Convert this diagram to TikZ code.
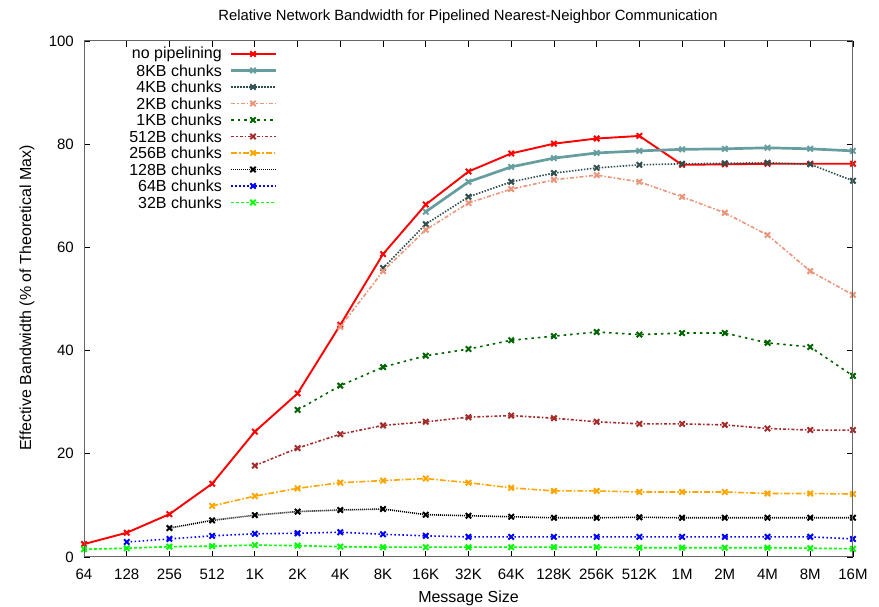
\documentclass[tikz,border=0pt]{standalone}
\usepackage{fontspec}
\setmainfont{Liberation Sans}
\usetikzlibrary{plotmarks}

\definecolor{nopipe}{RGB}{255,0,0}
\definecolor{cadet}{RGB}{102,158,160}
\definecolor{slate}{RGB}{47,79,79}
\definecolor{salmon}{RGB}{233,150,122}
\definecolor{dkgreen}{RGB}{0,100,0}
\definecolor{brownish}{RGB}{165,42,42}
\definecolor{orangeish}{RGB}{255,165,0}
\definecolor{pureblue}{RGB}{0,0,255}
\definecolor{puregreen}{RGB}{0,255,0}

\begin{document}
\begin{tikzpicture}[
  x=1pt, y=1pt,
  every node/.style={inner sep=0pt},
  ticklabel/.style={font=\fontsize{15}{17}\selectfont},
  axislabel/.style={font=\fontsize{16}{18}\selectfont},
  keylabel/.style={font=\fontsize{16}{18}\selectfont},
  frame/.style={draw=black!60, line width=1pt},
  tick/.style={draw=black, line width=0.8pt},
  curve/.style={line width=1.6pt, mark=x, mark size=3.8pt,
                mark options={solid, line width=2pt}},
  c0/.style={curve, nopipe, line width=1.9pt},
  c1/.style={curve, cadet, line width=2.7pt},
  c2/.style={curve, slate, dash pattern=on 1.5pt off 1.5pt},
  c3/.style={curve, salmon, dash pattern=on 4pt off 2pt on 1.5pt off 2pt},
  c4/.style={curve, dkgreen, dash pattern=on 2.5pt off 4pt},
  c5/.style={curve, brownish, dash pattern=on 3pt off 2pt on 1.5pt off 2pt},
  c6/.style={curve, orangeish, dash pattern=on 6pt off 2pt on 1.5pt off 2pt},
  c7/.style={curve, black, dash pattern=on 1pt off 1pt},
  c8/.style={curve, pureblue, dash pattern=on 1.5pt off 2.5pt},
  c9/.style={curve, puregreen, dash pattern=on 3pt off 2pt},
]
  \useasboundingbox (0,0) rectangle (879,607);

  % title and axis labels
  \node[font=\fontsize{14.8}{17}\selectfont] (title) at (468,590)
    {Relative Network Bandwidth for Pipelined Nearest-Neighbor Communication};
  \node[axislabel] (xlabel) at (468.5,9) {Message Size};
  \node[axislabel, rotate=90] (ylabel) at (27,309) {Effective Bandwidth (\% of Theoretical Max)};

  \begin{scope}[shift={(84,50)}, x=42.72pt, y=5.16pt]
    % ticks
    \foreach \i/\lab in {0/64,1/128,2/256,3/512,4/1K,5/2K,6/4K,7/8K,8/16K,9/32K,
                         10/64K,11/128K,12/256K,13/512K,14/1M,15/2M,16/4M,17/8M,18/16M} {
      \draw[tick] (\i,0) -- ++(0,6pt);
      \draw[tick] (\i,100) -- ++(0,-6pt);
      \node[ticklabel, anchor=base] at (\i,-23pt) {\lab};
    }
    \foreach \v in {0,20,...,100} {
      \draw[tick] (0,\v) -- ++(6pt,0);
      \draw[tick] (18,\v) -- ++(-6pt,0);
      \node[ticklabel, anchor=east] at (-10pt,\v) {\v};
    }

    % curves
    \draw[c0] plot coordinates {(0,2.5) (1,4.7) (2,8.3) (3,14.2) (4,24.3) (5,31.7) (6,45.0)
      (7,58.7) (8,68.3) (9,74.7) (10,78.2) (11,80.1) (12,81.1) (13,81.6) (14,76.0) (15,76.1)
      (16,76.2) (17,76.2) (18,76.2)};
    \draw[c1] plot coordinates {(8,66.9) (9,72.7) (10,75.6) (11,77.3) (12,78.3) (13,78.7)
      (14,79.0) (15,79.1) (16,79.3) (17,79.1) (18,78.7)};
    \draw[c2] plot coordinates {(7,56.0) (8,64.5) (9,69.8) (10,72.7) (11,74.4) (12,75.4)
      (13,76.0) (14,76.2) (15,76.3) (16,76.4) (17,76.1) (18,72.9)};
    \draw[c3] plot coordinates {(6,44.6) (7,55.4) (8,63.4) (9,68.6) (10,71.3) (11,73.1)
      (12,74.0) (13,72.7) (14,69.8) (15,66.7) (16,62.4) (17,55.4) (18,50.8)};
    \draw[c4] plot coordinates {(5,28.5) (6,33.2) (7,36.8) (8,39.0) (9,40.3) (10,42.0)
      (11,42.8) (12,43.6) (13,43.1) (14,43.4) (15,43.4) (16,41.5) (17,40.7) (18,35.1)};
    \draw[c5] plot coordinates {(4,17.7) (5,21.1) (6,23.8) (7,25.5) (8,26.2) (9,27.1)
      (10,27.4) (11,26.9) (12,26.2) (13,25.8) (14,25.8) (15,25.6) (16,24.9) (17,24.6) (18,24.6)};
    \draw[c6] plot coordinates {(3,9.9) (4,11.8) (5,13.3) (6,14.4) (7,14.8) (8,15.2) (9,14.4)
      (10,13.4) (11,12.8) (12,12.8) (13,12.6) (14,12.6) (15,12.6) (16,12.3) (17,12.3) (18,12.2)};
    \draw[c7] plot coordinates {(2,5.6) (3,7.1) (4,8.1) (5,8.8) (6,9.1) (7,9.3) (8,8.2) (9,8.0)
      (10,7.8) (11,7.6) (12,7.6) (13,7.7) (14,7.6) (15,7.6) (16,7.6) (17,7.6) (18,7.6)};
    \draw[c8] plot coordinates {(1,2.9) (2,3.5) (3,4.1) (4,4.5) (5,4.6) (6,4.8) (7,4.4) (8,4.1)
      (9,3.9) (10,3.9) (11,3.9) (12,3.9) (13,3.9) (14,3.9) (15,3.9) (16,3.9) (17,3.9) (18,3.5)};
    \draw[c9] plot coordinates {(0,1.5) (1,1.7) (2,2.0) (3,2.1) (4,2.3) (5,2.2) (6,2.0) (7,1.9)
      (8,1.9) (9,1.9) (10,1.9) (11,1.9) (12,1.9) (13,1.8) (14,1.8) (15,1.8) (16,1.8) (17,1.7) (18,1.6)};

    \draw[frame] (0,0) rectangle (18,100);
  \end{scope}

  % legend
  \foreach \k/\lab in {0/no pipelining,1/8KB chunks,2/4KB chunks,3/2KB chunks,4/1KB chunks,
                       5/512B chunks,6/256B chunks,7/128B chunks,8/64B chunks,9/32B chunks} {
    \node[keylabel, anchor=east] at (222,553-16.5*\k) {\lab};
    \draw[c\k, mark=none] (231,553-16.5*\k) -- (276,553-16.5*\k);
    \draw[c\k] plot[only marks] coordinates {(253,553-16.5*\k)};
  }
\end{tikzpicture}
\end{document}
